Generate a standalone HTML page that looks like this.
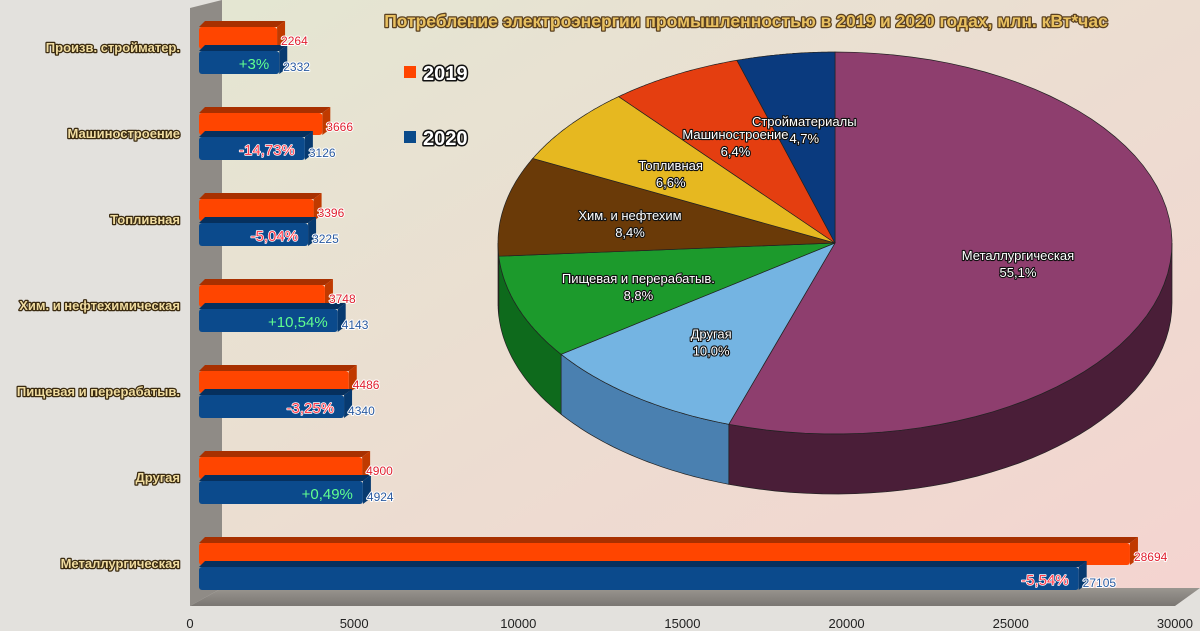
<!DOCTYPE html>
<html><head><meta charset="utf-8"><style>
body{margin:0;width:1200px;height:631px;overflow:hidden;background:#e3e1dd;font-family:"Liberation Sans",sans-serif}
svg{display:block}
.o{paint-order:stroke;stroke-linejoin:round}
</style></head><body>
<svg id="c" width="1200" height="631" viewBox="0 0 1200 631" xmlns="http://www.w3.org/2000/svg">
<defs>
<linearGradient id="bg" x1="0" y1="0" x2="1" y2="1"><stop offset="0" stop-color="#e4e6d2"/><stop offset="1" stop-color="#f4d4d0"/></linearGradient>
<linearGradient id="fl" x1="0" y1="0" x2="0" y2="1"><stop offset="0" stop-color="#9a9690"/><stop offset="1" stop-color="#7a7672"/></linearGradient>
</defs>
<rect x="0" y="0" width="1200" height="631" fill="#e3e1dd"/>
<rect x="222" y="0" width="978" height="588" fill="url(#bg)"/>
<polygon points="190,8 222,0 222,588 190,606" fill="#8f8b86"/>
<polygon points="190,606 222,588 1200,588 1175,606" fill="url(#fl)"/>
<g id="bars"></g>
<g id="axis"></g>
<g id="pie"></g>
<text class="o" x="746" y="27" text-anchor="middle" font-size="17.5" font-weight="bold" fill="#e8c060" stroke="#5a4020" stroke-width="2.5">Потребление электроэнергии промышленностью в 2019 и 2020 годах, млн. кВт*час</text>
<g>
<rect x="404" y="66" width="12" height="12" fill="#ff4500"/>
<text class="o" x="423" y="80" font-size="20" font-weight="bold" fill="#fff" stroke="#111" stroke-width="3">2019</text>
<rect x="404" y="131" width="12" height="12" fill="#0a4a8a"/>
<text class="o" x="423" y="145" font-size="20" font-weight="bold" fill="#fff" stroke="#111" stroke-width="3">2020</text>
</g>
<script>
const categories=["Произв. стройматер.","Машиностроение","Топливная","Хим. и нефтехимическая","Пищевая и перерабатыв.","Другая","Металлургическая"];
const values2019=[2264,3666,3396,3748,4486,4900,28694];
const values2020=[2332,3126,3225,4143,4340,4924,27105];
const changeLabels=["+3%","-14,73%","-5,04%","+10,54%","-3,25%","+0,49%","-5,54%"];
const axisTicks=[0,5000,10000,15000,20000,25000,30000];
const pieLabels=["Металлургическая","Другая","Пищевая и перерабатыв.","Хим. и нефтехим","Топливная","Машиностроение","Стройматериалы"];
const pieShares=[55.1,10.0,8.8,8.4,6.6,6.4,4.7];

const NS="http://www.w3.org/2000/svg";
function mk(p,t,a){const e=document.createElementNS(NS,t);for(const k in a)e.setAttribute(k,a[k]);p.appendChild(e);return e;}
const xBar=v=>204+0.03227*v;
const xTick=v=>190+0.03283*v;
const rowY=i=>47+i*86;
const bars=document.getElementById('bars');
function bar(x1,y,h,fill,top,side){
  const d=8,g=mk(bars,'g',{});
  mk(g,'polygon',{points:`199,${y} ${x1},${y} ${x1+d},${y-6} ${205},${y-6}`,fill:top});
  mk(g,'polygon',{points:`${x1},${y} ${x1+d},${y-6} ${x1+d},${y+h-6} ${x1},${y+h}`,fill:side});
  mk(g,'rect',{x:199,y:y,width:x1-199,height:h,rx:3,fill:fill});
  return g;
}
categories.forEach((c,i)=>{
  const cy=rowY(i);
  const t=mk(bars,'text',{x:180,y:cy+5,'text-anchor':'end','font-size':13,'font-weight':'bold',fill:'#f0dca0',stroke:'#3a2a10','stroke-width':2.5,class:'o'});
  t.textContent=c;
  
  
  const x1=xBar(values2019[i]);
  const b1=bar(x1,cy-20,22,'#ff4500','#a83000','#c03a00');
  
  
  const x2=xBar(values2020[i]);
  const b2=bar(x2,cy+4,23,'#0b4a8c','#06305e','#073a70');
  
  
  const v1=mk(bars,'text',{x:x1+4,y:cy-2,'font-size':12,fill:'#e02030',stroke:'#fff','stroke-width':2,class:'o'});
  v1.textContent=values2019[i];
  
  
  const v2=mk(bars,'text',{x:x2+4,y:cy+24,'font-size':12,fill:'#2a5aa0',stroke:'#fff','stroke-width':2,class:'o'});
  v2.textContent=values2020[i];
  
  
  const pos=changeLabels[i][0]==='+';
  const pc=mk(bars,'text',{x:x2-10,y:cy+22,'text-anchor':'end','font-size':15,fill:pos?'#60ff90':'#ff4050',stroke:pos?'#0a3a4a':'#fff','stroke-width':pos?0:1.5,class:'o'});
  pc.textContent=changeLabels[i];
  
  
});
const ax=document.getElementById('axis');
axisTicks.forEach(v=>{
  const t=mk(ax,'text',{x:xTick(v),y:628,'text-anchor':'middle','font-size':13,fill:'#222'});
  t.textContent=v;
  
  
});
// pie
const pie=document.getElementById('pie');
const cx=835,cy=243,rx=337,ry=191,dep=60;
const cols=["#8e3e6e","#74b4e2","#1c9a2c","#6a3a08","#e6b820","#e43e10","#0a3a7e"];
const sides=["#4a1e38","#4a80b0","#0e6a1c","#4a2806","#a88010","#a82a08","#062a5a"];
const P=t=>[cx+rx*Math.sin(t),cy-ry*Math.cos(t)];
const tot=pieShares.reduce((a,b)=>a+b,0);
let acc=0;const ang=pieShares.map(s=>{const a=[acc,acc+s/tot*2*Math.PI];acc=a[1];return a;});
ang.forEach((a,i)=>{
  const s=Math.max(a[0],Math.PI/2),e=Math.min(a[1],3*Math.PI/2);
  if(e<=s)return;
  let d='';const n=40;
  for(let k=0;k<=n;k++){const p=P(s+(e-s)*k/n);d+=(k?'L':'M')+p[0].toFixed(1)+','+p[1].toFixed(1);}
  for(let k=n;k>=0;k--){const p=P(s+(e-s)*k/n);d+='L'+p[0].toFixed(1)+','+(p[1]+dep).toFixed(1);}
  const el=mk(pie,'path',{d:d+'Z',fill:sides[i],stroke:'#222','stroke-width':0.7});
  
  
});
ang.forEach((a,i)=>{
  let d=`M${cx},${cy}`;const n=60;
  for(let k=0;k<=n;k++){const p=P(a[0]+(a[1]-a[0])*k/n);d+='L'+p[0].toFixed(1)+','+p[1].toFixed(1);}
  const el=mk(pie,'path',{d:d+'Z',fill:cols[i],stroke:'#222','stroke-width':0.7});
  
  
});
ang.forEach((a,i)=>{
  const m=(a[0]+a[1])/2,f=i===0?0.55:0.62;
  const x=cx+rx*f*Math.sin(m),y=cy-ry*f*Math.cos(m);
  const t=mk(pie,'text',{x:x,y:y,'text-anchor':'middle','font-size':13,fill:'#fff',stroke:'#111','stroke-width':2.2,class:'o'});
  
  
  const t1=mk(t,'tspan',{x:x,dy:0});t1.textContent=pieLabels[i];
  const t2=mk(t,'tspan',{x:x,dy:17});t2.textContent=pieShares[i].toFixed(1).replace('.',',')+'%';
});
</script>
</svg>
</body></html>
